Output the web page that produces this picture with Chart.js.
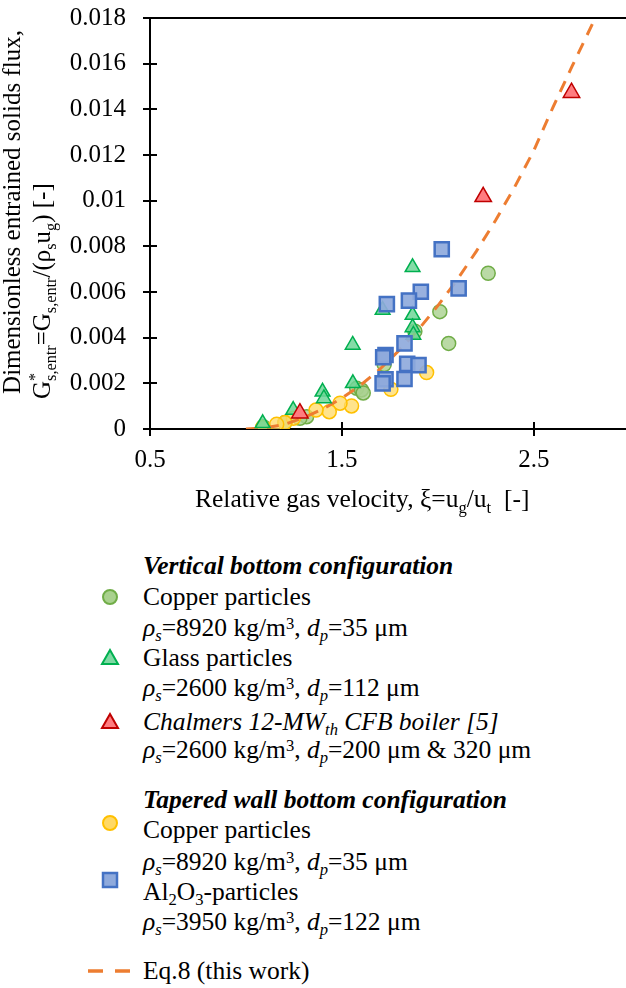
<!DOCTYPE html>
<html>
<head>
<meta charset="utf-8">
<script src="https://cdn.jsdelivr.net/npm/chart.js@4.4.1/dist/chart.umd.min.js"></script>
<style>
  body { margin: 0; background: #fff; }
  #wrap { position: relative; width: 626px; height: 988px; background: #fff; overflow: hidden; }
  #chart { position: absolute; left: 0; top: 0; }
  .lg { position: absolute; left: 143px; height: 30px; line-height: 30px; font: 25.5px 'Liberation Serif', 'Times New Roman', serif; color: #000; white-space: nowrap; }
  .lg sub, .lg sup { font-size: 0.65em; line-height: 0; position: relative; vertical-align: baseline; }
  .lg sub { top: 0.3em; }
  .lg sup { top: -0.45em; }
  .mk { position: absolute; }
</style>
</head>
<body>
<div id="wrap">
  <canvas id="chart" width="626" height="530"></canvas>

  <div class="lg" style="top:551px"><b><i>Vertical bottom configuration</i></b></div>
  <svg class="mk" style="left:100px;top:587px" width="20" height="20"><circle cx="10" cy="10" r="7" fill="#A9D18E" stroke="#70AD47" stroke-width="2"/></svg>
  <div class="lg" style="top:582px">Copper particles</div>
  <div class="lg" style="top:613px"><i>ρ<sub>s</sub></i>=8920 kg/m<sup>3</sup>, <i>d<sub>p</sub></i>=35 μm</div>
  <svg class="mk" style="left:100px;top:648px" width="20" height="20"><polygon points="10,2 18,16 2,16" fill="#7FD9A3" stroke="#00B050" stroke-width="2"/></svg>
  <div class="lg" style="top:643px">Glass particles</div>
  <div class="lg" style="top:673px"><i>ρ<sub>s</sub></i>=2600 kg/m<sup>3</sup>, <i>d<sub>p</sub></i>=112 μm</div>
  <svg class="mk" style="left:100px;top:712px" width="20" height="20"><polygon points="10,2 18,16 2,16" fill="#FF7C80" stroke="#C00000" stroke-width="2"/></svg>
  <div class="lg" style="top:707px"><i>Chalmers 12-MW<sub>th</sub> CFB boiler [5]</i></div>
  <div class="lg" style="top:735px"><i>ρ<sub>s</sub></i>=2600 kg/m<sup>3</sup>, <i>d<sub>p</sub></i>=200 μm &amp; 320 μm</div>

  <div class="lg" style="top:785px"><b><i>Tapered wall bottom configuration</i></b></div>
  <svg class="mk" style="left:100px;top:813px" width="20" height="20"><circle cx="10" cy="10" r="7" fill="#FFD966" stroke="#FFC000" stroke-width="2"/></svg>
  <div class="lg" style="top:815px">Copper particles</div>
  <div class="lg" style="top:847px"><i>ρ<sub>s</sub></i>=8920 kg/m<sup>3</sup>, <i>d<sub>p</sub></i>=35 μm</div>
  <svg class="mk" style="left:100px;top:870px" width="20" height="20"><rect x="3" y="3" width="14" height="14" fill="#8FAADC" stroke="#4472C4" stroke-width="2.5"/></svg>
  <div class="lg" style="top:877px">Al<sub>2</sub>O<sub>3</sub>-particles</div>
  <div class="lg" style="top:907px"><i>ρ<sub>s</sub></i>=3950 kg/m<sup>3</sup>, <i>d<sub>p</sub></i>=122 μm</div>

  <svg class="mk" style="left:85px;top:961px" width="50" height="20"><line x1="3" y1="10" x2="45" y2="10" stroke="#ED7D31" stroke-width="3.5" stroke-dasharray="15,12"/></svg>
  <div class="lg" style="top:956px">Eq.8 (this work)</div>
</div>

<script>
// data
const vertCopperX = [2.262, 2.010, 2.056, 1.880, 1.720, 1.577, 1.602, 1.611, 1.316, 1.281, 1.203, 1.090];
const vertCopperY = [0.00682, 0.00514, 0.00375, 0.00428, 0.00282, 0.00178, 0.00171, 0.00158, 0.00054, 0.00047, 0.00028, 0.00010];

const glassX = [1.868, 1.712, 1.868, 1.868, 1.872, 1.556, 1.557, 1.399, 1.406, 1.246, 1.087];
const glassY = [0.00708, 0.00521, 0.00499, 0.00445, 0.00412, 0.00368, 0.00200, 0.00163, 0.00134, 0.00083, 0.00025];

const chalmersX = [1.281, 2.236, 2.696];
const chalmersY = [0.00069, 0.01017, 0.01473];

const taperCopperX = [1.941, 1.755, 1.550, 1.490, 1.434, 1.365, 1.247, 1.203, 1.160, 1.087];
const taperCopperY = [0.00247, 0.00174, 0.00101, 0.00113, 0.00076, 0.00083, 0.00047, 0.00028, 0.00021, 0.00007];

const aluminaX = [2.020, 2.108, 1.911, 1.849, 1.734, 1.826, 1.727, 1.715, 1.840, 1.899, 1.826, 1.727, 1.712];
const aluminaY = [0.00787, 0.00616, 0.00601, 0.00562, 0.00547, 0.00375, 0.00324, 0.00314, 0.00285, 0.00280, 0.00219, 0.00218, 0.00200];

const eq8X = [1.0, 1.1, 1.2, 1.3, 1.4, 1.5, 1.6, 1.7, 1.8, 1.9, 2.0, 2.1, 2.2, 2.3, 2.4, 2.5, 2.6, 2.7, 2.82];
const eq8Y = [0, 0.00005, 0.0002, 0.00049, 0.00087, 0.00135, 0.00194, 0.00264, 0.00346, 0.00437, 0.0054, 0.00653, 0.00778, 0.00913, 0.0106, 0.0122, 0.0141, 0.0159, 0.0180];

const xTicks = [0.5, 1.5, 2.5];
const yTicks = [0, 0.002, 0.004, 0.006, 0.008, 0.01, 0.012, 0.014, 0.016, 0.018];

const serif = "'Liberation Serif', 'Times New Roman', serif";
const pts = (xs, ys) => xs.map((x, i) => ({ x: x, y: ys[i] }));

// rich text on canvas (sub / superscripts)
const runFont = (r, size) => `${r.italic ? 'italic ' : ''}${(r.sub || r.sup) ? size * 0.65 : size}px ${serif}`;
const runsWidth = (ctx, runs, size) => runs.reduce((w, r) => {
    ctx.font = runFont(r, size);
    return w + (r.noAdv ? 0 : ctx.measureText(r.t).width);
}, 0);
const drawRuns = (ctx, runs, x, y, size) => {
    let cx = x;
    runs.forEach(r => {
        ctx.font = runFont(r, size);
        const dy = r.sub ? size * 0.22 : r.sup ? -size * 0.42 : 0;
        ctx.fillText(r.t, cx, y + dy);
        if (!r.noAdv) cx += ctx.measureText(r.t).width;
    });
};

const yTitle1 = [{ t: 'Dimensionless entrained solids flux,' }];
const yTitle2 = [
    { t: 'G' }, { t: '*', sup: true, noAdv: true }, { t: 's,entr', sub: true },
    { t: '=G' }, { t: 's,entr', sub: true }, { t: '/(ρ' }, { t: 's', sub: true },
    { t: 'u' }, { t: 'g', sub: true }, { t: ') [-]' }
];
const xTitle = [
    { t: 'Relative gas velocity, ξ=u' }, { t: 'g', sub: true }, { t: '/u' }, { t: 't', sub: true }, { t: '  [-]' }
];

const frame = {
    id: 'frame',
    afterDraw(chart) {
        const { ctx, chartArea: { left, right, top, bottom }, scales: { x, y } } = chart;
        ctx.save();
        ctx.strokeStyle = '#000';
        ctx.lineWidth = 2;
        ctx.beginPath();
        y.ticks.forEach(t => {
            const py = Math.round(y.getPixelForValue(t.value));
            ctx.moveTo(left - 7, py);
            ctx.lineTo(left + 7, py);
        });
        x.ticks.forEach(t => {
            const px = Math.round(x.getPixelForValue(t.value));
            ctx.moveTo(px, bottom - 7);
            ctx.lineTo(px, bottom + 7);
        });
        ctx.moveTo(left - 7, top);
        ctx.lineTo(right, top);
        ctx.stroke();

        ctx.fillStyle = '#000';
        ctx.textBaseline = 'alphabetic';
        ctx.textAlign = 'left';
        drawRuns(ctx, xTitle, 195, 507, 25.5);

        ctx.save();
        ctx.translate(20, 212);
        ctx.rotate(-Math.PI / 2);
        drawRuns(ctx, yTitle1, -runsWidth(ctx, yTitle1, 25) / 2, 0, 25);
        ctx.restore();

        ctx.save();
        ctx.translate(50, 399);
        ctx.rotate(-Math.PI / 2);
        drawRuns(ctx, yTitle2, 0, 0, 25);
        ctx.restore();
        ctx.restore();
    }
};

const marker = (label, xs, ys, style, radius, fill, stroke, bw, order) => ({
    label: label,
    data: pts(xs, ys),
    pointStyle: style,
    pointRadius: radius,
    pointHoverRadius: radius,
    pointBackgroundColor: fill,
    pointBorderColor: stroke,
    pointBorderWidth: bw,
    showLine: false,
    order: order
});

const ctx = document.getElementById('chart');
const myChart = new Chart(ctx, {
    type: 'scatter',
    data: {
        datasets: [
            marker('Al2O3-particles', aluminaX, aluminaY, 'rect', 10, 'rgba(143,170,220,0.92)', '#4472C4', 2.5, 0),
            marker('Chalmers 12-MWth CFB boiler [5]', chalmersX, chalmersY, 'triangle', 9.5, '#FF7C80', '#C00000', 1.5, 1),
            marker('Glass particles', glassX, glassY, 'triangle', 8.5, 'rgba(110,214,152,0.85)', '#00B050', 1.5, 2),
            {
                label: 'Eq.8 (this work)',
                data: pts(eq8X, eq8Y),
                showLine: true,
                pointRadius: 0,
                borderColor: '#ED7D31',
                borderWidth: 3,
                borderDash: [12, 9],
                tension: 0,
                order: 3
            },
            marker('Copper particles (tapered)', taperCopperX, taperCopperY, 'circle', 7, 'rgba(255,217,102,0.75)', '#FFC000', 1.5, 4),
            marker('Copper particles (vertical)', vertCopperX, vertCopperY, 'circle', 7, 'rgba(169,209,142,0.8)', '#70AD47', 1.5, 5)
        ]
    },
    options: {
        responsive: false,
        animation: false,
        devicePixelRatio: 1,
        layout: { autoPadding: false, padding: { top: 18, right: 0, left: 0, bottom: 0 } },
        plugins: {
            legend: { display: false },
            tooltip: { enabled: false }
        },
        scales: {
            x: {
                type: 'linear',
                min: 0.5,
                max: 2.98,
                afterBuildTicks: scale => { scale.ticks = xTicks.map(v => ({ value: v })); },
                afterFit: scale => {
                    scale.height = 101;
                    scale.paddingLeft = 0;
                    scale.paddingRight = 0;
                },
                grid: { display: false, drawTicks: false },
                border: { display: true, color: '#000', width: 2 },
                ticks: {
                    color: '#000',
                    padding: 16,
                    maxRotation: 0,
                    font: { family: serif, size: 25 },
                    callback: v => v.toFixed(1)
                }
            },
            y: {
                type: 'linear',
                min: 0,
                max: 0.018,
                afterBuildTicks: scale => { scale.ticks = yTicks.map(v => ({ value: v })); },
                afterFit: scale => {
                    scale.width = 150;
                    scale.paddingTop = 0;
                    scale.paddingBottom = 0;
                },
                grid: { display: false, drawTicks: false },
                border: { display: true, color: '#000', width: 2 },
                ticks: {
                    color: '#000',
                    padding: 24,
                    font: { family: serif, size: 25 },
                    callback: v => String(+v.toFixed(3))
                }
            }
        }
    },
    plugins: [frame]
});
</script>
</body>
</html>
